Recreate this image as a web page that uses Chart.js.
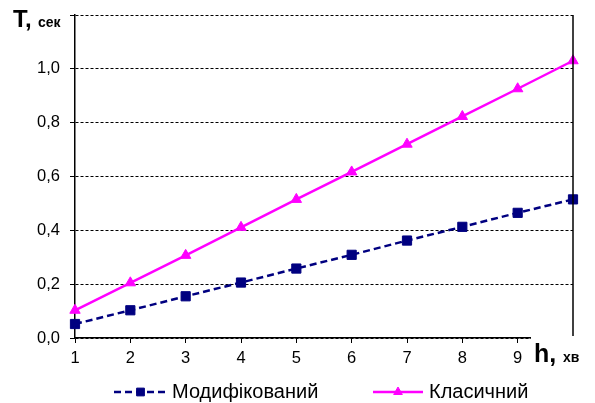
<!DOCTYPE html>
<html>
<head>
<meta charset="utf-8">
<script src="https://cdn.jsdelivr.net/npm/chart.js@4/dist/chart.umd.min.js"></script>
<style>
  html, body { margin: 0; padding: 0; background: #fff; }
  #wrap { width: 595px; height: 403px; }
</style>
</head>
<body>
<div id="wrap"><canvas id="c" width="595" height="403"></canvas></div>
<script>
// h, хв
const hValues = [1, 2, 3, 4, 5, 6, 7, 8, 9, 10];
// T, сек
const modifiedT = [0.052, 0.103, 0.155, 0.206, 0.258, 0.309, 0.362, 0.413, 0.465, 0.515];
const classicT  = [0.103, 0.205, 0.307, 0.411, 0.515, 0.617, 0.720, 0.823, 0.926, 1.030];
const seriesNames = ['Модифікований', 'Класичний'];
const yTickMax = 1.2;
const yTickStep = 0.2;

const FONT = '"Liberation Sans", Arial, sans-serif';

const toPoints = (ys) => hValues.map((h, i) => ({ x: h, y: ys[i] }));

// Axis captions, right frame line and the legend are painted by hand
const decorations = {
  id: 'decorations',
  afterDraw(chart) {
    const { ctx, chartArea: a } = chart;
    ctx.save();
    // right frame line
    ctx.strokeStyle = '#000';
    ctx.lineWidth = 1.5;
    ctx.beginPath();
    ctx.moveTo(a.right, a.top);
    ctx.lineTo(a.right, a.bottom - 2);
    ctx.stroke();

    // y axis caption
    ctx.fillStyle = '#000';
    ctx.textBaseline = 'alphabetic';
    ctx.textAlign = 'left';
    ctx.font = 'bold 24px ' + FONT;
    ctx.fillText('T,', 13, 27);
    ctx.font = 'bold 14px ' + FONT;
    ctx.fillText('сек', 38, 27);

    // x axis caption on a white patch
    ctx.fillStyle = '#fff';
    ctx.fillRect(531, a.bottom - 2, 60, 32);
    ctx.fillStyle = '#000';
    ctx.font = 'bold 25px ' + FONT;
    ctx.fillText('h,', 534, 362);
    ctx.font = 'bold 14px ' + FONT;
    ctx.fillText('хв', 563, 362);

    // legend
    const entries = [
      { ds: chart.data.datasets[0], x0: 114, x1: 167, tx: 172 },
      { ds: chart.data.datasets[1], x0: 373, x1: 423, tx: 429 }
    ];
    const ly = 392;
    entries.forEach(e => {
      ctx.strokeStyle = e.ds.borderColor;
      ctx.lineWidth = e.ds.borderWidth;
      ctx.setLineDash(e.ds.borderDash || []);
      ctx.beginPath();
      ctx.moveTo(e.x0, ly);
      ctx.lineTo(e.x1, ly);
      ctx.stroke();
      ctx.setLineDash([]);
      ctx.fillStyle = e.ds.pointBackgroundColor;
      ctx.strokeStyle = e.ds.pointBorderColor;
      ctx.lineWidth = 1;
      Chart.helpers.drawPoint(ctx, {
        pointStyle: e.ds.pointStyle,
        radius: e.ds.pointRadius - 1,
        borderWidth: 1
      }, (e.x0 + e.x1) / 2, ly);
      ctx.fillStyle = '#000';
      ctx.font = '20px ' + FONT;
      ctx.textBaseline = 'middle';
      ctx.fillText(e.ds.label, e.tx, ly);
    });
    ctx.restore();
  }
};

new Chart(document.getElementById('c'), {
  type: 'line',
  data: {
    datasets: [
      {
        label: seriesNames[0],
        data: toPoints(modifiedT),
        borderColor: '#000080',
        backgroundColor: '#000080',
        borderWidth: 2.5,
        borderDash: [7, 4],
        pointStyle: 'rect',
        pointRadius: 6.5,
        pointBackgroundColor: '#000080',
        pointBorderColor: '#000080',
        pointBorderWidth: 1,
        tension: 0
      },
      {
        label: seriesNames[1],
        data: toPoints(classicT),
        borderColor: '#ff00ff',
        backgroundColor: '#ff00ff',
        borderWidth: 2.5,
        pointStyle: 'triangle',
        pointRadius: 6,
        pointBackgroundColor: '#ff00ff',
        pointBorderColor: '#ff00ff',
        pointBorderWidth: 1,
        tension: 0
      }
    ]
  },
  options: {
    responsive: false,
    animation: false,
    clip: false,
    layout: { padding: { top: 15, right: 22, left: 0, bottom: 0 } },
    plugins: {
      legend: { display: false },
      tooltip: { enabled: false }
    },
    scales: {
      x: {
        type: 'linear',
        min: hValues[0],
        max: hValues[hValues.length - 1],
        afterFit(s) { s.height = 65; s.paddingRight = 0; s.paddingLeft = 0; },
        border: { display: true, color: '#000', width: 1.5 },
        grid: {
          drawOnChartArea: false,
          drawTicks: true,
          tickLength: 5,
          color: '#000',
          tickColor: '#000',
          lineWidth: 1
        },
        ticks: {
          stepSize: 1,
          color: '#000',
          padding: 6,
          font: { family: FONT, size: 16.5 },
          maxRotation: 0,
          callback: (v) => (v === hValues[hValues.length - 1] ? '' : String(v))
        }
      },
      y: {
        min: 0,
        max: yTickMax,
        afterFit(s) { s.width = 75; s.paddingTop = 0; s.paddingBottom = 0; },
        border: { display: true, color: '#000', width: 1.5, dash: [3, 2] },
        grid: {
          color: '#000',
          lineWidth: 1,
          tickLength: 5,
          tickColor: '#000',
          tickBorderDash: []
        },
        ticks: {
          stepSize: yTickStep,
          color: '#000',
          padding: 10,
          font: { family: FONT, size: 16.5 },
          callback: (v) => (Math.abs(v - yTickMax) < 1e-9 ? '' : v.toFixed(1).replace('.', ','))
        }
      }
    }
  },
  plugins: [decorations]
});
</script>
</body>
</html>
